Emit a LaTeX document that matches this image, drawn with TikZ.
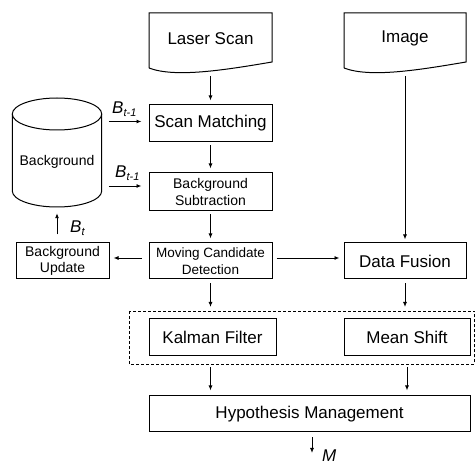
\documentclass[tikz,border=0pt]{standalone}
\usepackage{fontspec}
\setmainfont{Liberation Sans}
\usetikzlibrary{arrows.meta}
\begin{document}
\begin{tikzpicture}[x=1pt,y=-1pt,
  box/.style={draw,line width=1pt,inner sep=0pt,align=center},
  big/.style={font=\fontsize{17}{19}\selectfont},
  small/.style={font=\fontsize{14}{16.5}\selectfont},
  arr/.style={line width=0.9pt,-{Latex[length=5pt,width=4pt]}},
  lbl/.style={inner sep=0pt,font=\fontsize{17}{19}\selectfont}]
\useasboundingbox (0,0) rectangle (475,465);
% documents
\draw[line width=1pt] (149,68) -- (149,13) -- (272,13) -- (272,62)
  .. controls (225,70) and (175,78) .. (149,68);
\draw[line width=1pt] (344,68) -- (344,13) -- (466,13) -- (466,62)
  .. controls (419,70) and (370,78) .. (344,68);
\node[big,inner sep=0pt] (ls) at (210.5,38.5) {Laser Scan};
\node[big,inner sep=0pt] (img) at (405,38.5) {Image};
\coordinate (lsb) at (210.5,76);
\coordinate (imgb) at (405,76);
% cylinder
\draw[line width=1pt] (12.3,114) -- (12.3,191) arc[start angle=180,end angle=0,x radius=44.7,y radius=16] -- (101.7,114);
\draw[line width=1pt] (57,114) ellipse[x radius=44.7,y radius=16];
\node[inner sep=0pt,minimum width=89.4,minimum height=109] (cyl) at (57,152.5) {};
\node[small,inner sep=0pt] (cyltxt) at (57,162) {Background};
% boxes
\node[box,big,minimum width=123,minimum height=37] (sm) at (210.5,123.5) {Scan Matching};
\node[box,small,minimum width=123,minimum height=38] (bs) at (210.5,192) {Background\\Subtraction};
\node[box,font=\fontsize{13.5}{16.5}\selectfont,minimum width=123,minimum height=36] (mcd) at (210.5,261) {Moving Candidate\\Detection};
\node[box,small,minimum width=93,minimum height=36] (bu) at (62.5,261) {Background\\Update};
\node[box,big,minimum width=122,minimum height=36] (df) at (405,261) {Data Fusion};
\draw[line width=0.8pt,dash pattern=on 3pt off 2pt] (129,311) rectangle (474.5,364);
\node[box,big,minimum width=127,minimum height=37] (kf) at (212.5,337.5) {Kalman Filter};
\node[box,big,minimum width=126,minimum height=37] (ms) at (407,337.5) {Mean Shift};
\node[box,big,minimum width=321,minimum height=36] (hm) at (309.5,414) {Hypothesis Management};
\coordinate (dtop) at (210.5,311);
\coordinate (dbot) at (210.5,364);
\coordinate (mout) at (312,453);
% arrows
\draw[arr,shorten >=4pt] (lsb) -- (lsb |- sm.north);
\draw[arr,shorten <=3pt,shorten >=4pt] (sm.south) -- (bs.north);
\draw[arr,shorten <=3pt,shorten >=4pt] (bs.south) -- (mcd.north);
\draw[arr,shorten >=3pt] (imgb) -- (imgb |- df.north);
\draw[arr,shorten <=7pt,shorten >=7pt] ([yshift=2pt]cyl.east |- sm.west) -- ([yshift=2pt]sm.west);
\draw[arr,shorten <=7pt,shorten >=7pt] ([yshift=6pt]cyl.east |- bs.west) -- ([yshift=6pt]bs.west);
\draw[arr,shorten <=8pt,shorten >=6pt] (cyl.south |- bu.north) -- (cyl.south);
\draw[arr,shorten <=7pt,shorten >=4pt] ([yshift=3pt]mcd.west) -- ([yshift=3pt]bu.east);
\draw[arr,shorten <=4pt,shorten >=4pt] ([yshift=3pt]mcd.east) -- ([yshift=3pt]df.west);
\draw[arr,shorten <=4pt,shorten >=4pt] (mcd.south) -- (dtop);
\draw[arr,shorten <=4pt,shorten >=4pt] (df.south) -- (dtop -| df.south);
\draw[arr,shorten <=3pt,shorten >=5pt] (dbot) -- (dbot |- hm.north);
\draw[arr,shorten <=3pt,shorten >=5pt] (dbot -| ms.south) -- (ms.south |- hm.north);
\draw[arr,shorten <=5pt] (mout |- hm.south) -- (mout);
% labels
\node[lbl,anchor=base west] (l1) at (112,114) {\textit{B}\raisebox{-3pt}{\fontsize{11}{12}\selectfont\textit{t-1}}};
\node[lbl,anchor=base west] (l2) at (115,178) {\textit{B}\raisebox{-3pt}{\fontsize{11}{12}\selectfont\textit{t-1}}};
\node[lbl,anchor=base west] (l3) at (70,233) {\textit{B}\raisebox{-3pt}{\fontsize{11}{12}\selectfont\textit{t}}};
\node[lbl,anchor=base west] (l4) at (322,462) {\textit{M}};
\end{tikzpicture}
\end{document}
